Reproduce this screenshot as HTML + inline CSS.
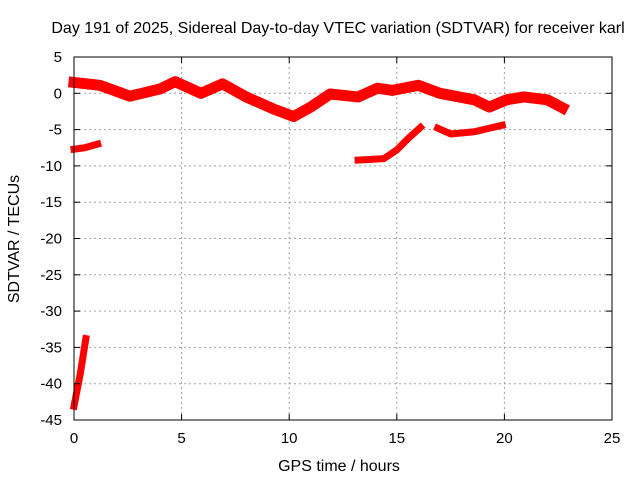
<!DOCTYPE html>
<html><head><meta charset="utf-8"><style>
body{margin:0;background:#fff;}
svg{display:block;font-family:"Liberation Sans",sans-serif;}
</style></head><body>
<svg id="c" width="640" height="480">
<text x="338" y="33" text-anchor="middle" font-size="16">Day 191 of 2025, Sidereal Day-to-day VTEC variation (SDTVAR) for receiver karl</text>
<text x="339" y="471" text-anchor="middle" font-size="16">GPS time / hours</text>
<text transform="translate(19,239) rotate(-90)" text-anchor="middle" font-size="16">SDTVAR / TECUs</text>
<g id="grid"></g><g id="series"></g>
<rect x="74" y="57" width="538" height="363" fill="none" stroke="#000" stroke-width="1"/>
<g id="ticks"></g>
</svg>
<script>
const xTicks=[0,5,10,15,20,25];
const yTicks=[5,0,-5,-10,-15,-20,-25,-30,-35,-40,-45];
const mainBand=[[0,1.5],[1.2,1.1],[2.6,-0.4],[4.0,0.6],[4.7,1.6],[5.9,0],[6.9,1.3],[8.0,-0.5],[9.3,-2.2],[10.2,-3.2],[11.0,-1.9],[11.9,-0.1],[13.2,-0.5],[14.1,0.7],[14.8,0.4],[16.0,1.1],[17.0,0],[18.6,-0.9],[19.3,-1.9],[20.1,-0.9],[20.9,-0.5],[22.0,-0.9],[22.7,-2.0]];
const earlyLow=[[0,-7.7],[0.5,-7.5],[1.1,-7.0]];
const midLow=[[13.2,-9.2],[14.4,-9.0],[15.0,-7.8],[15.5,-6.3],[16.1,-4.7]];
const lateLow=[[16.9,-4.8],[17.5,-5.6],[18.6,-5.3],[19.9,-4.4]];
const steep=[[0,-43.1],[0.3,-38.5],[0.55,-33.8]];
const X=h=>74+h*538/25, Y=v=>57+(5-v)*363/50;
const NS="http://www.w3.org/2000/svg";
function mk(t,a,p){const e=document.createElementNS(NS,t);for(const k in a)e.setAttribute(k,a[k]);p.appendChild(e);return e;}
const grid=document.getElementById('grid'),ticks=document.getElementById('ticks'),ser=document.getElementById('series');
xTicks.forEach(t=>{const x=X(t);
 if(t>0&&t<25){const g=mk('line',{x1:x,x2:x,y1:57,y2:420,stroke:'#a0a0a0','stroke-dasharray':'2,3'},grid);
 
 }
 mk('line',{x1:x,x2:x,y1:420,y2:414,stroke:'#000'},ticks);mk('line',{x1:x,x2:x,y1:57,y2:63,stroke:'#000'},ticks);
 const l=mk('text',{x:x,y:443,'text-anchor':'middle','font-size':15},ticks);l.textContent=t;
 
 });
yTicks.forEach(t=>{const y=Y(t);
 if(t<5&&t>-45){const g=mk('line',{x1:74,x2:612,y1:y,y2:y,stroke:'#a0a0a0','stroke-dasharray':'2,3'},grid);
 
 }
 mk('line',{x1:74,x2:80,y1:y,y2:y,stroke:'#000'},ticks);mk('line',{x1:612,x2:606,y1:y,y2:y,stroke:'#000'},ticks);
 const l=mk('text',{x:62,y:y+5,'text-anchor':'end','font-size':15},ticks);l.textContent=t;
 
 });
function band(d,w,name){
 const p=mk('polyline',{points:d.map(q=>X(q[0])+','+Y(q[1])).join(' '),fill:'none',stroke:'#f00','stroke-width':w,'stroke-linejoin':'round','stroke-linecap':'square'},ser);
 
 
}
band(mainBand,11,'series-main-band');
band(earlyLow,7,'series-early-low');
band(midLow,7,'series-mid-low');
band(lateLow,7,'series-late-low');
band(steep,7,'series-steep-start');
</script>
</body></html>
